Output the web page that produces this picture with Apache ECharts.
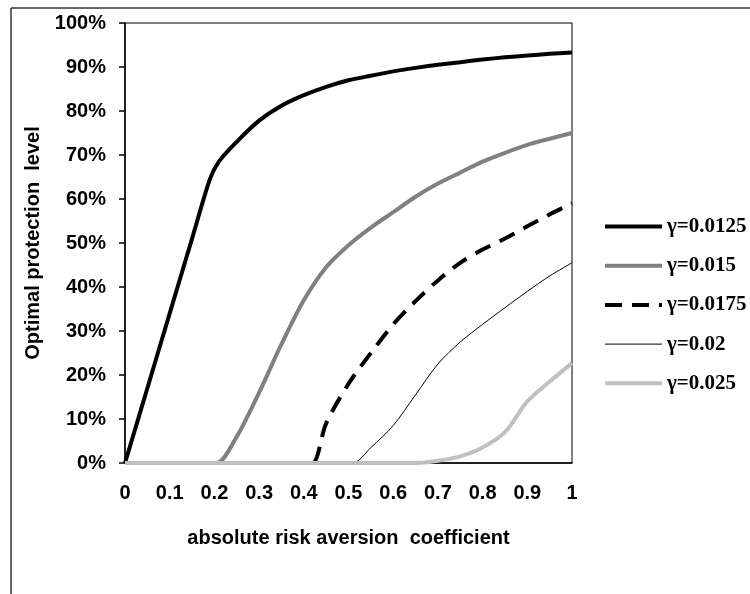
<!DOCTYPE html>
<html>
<head>
<meta charset="utf-8">
<script src="https://cdn.jsdelivr.net/npm/echarts@6/dist/echarts.min.js"></script>
<style>
html,body{margin:0;padding:0;background:#fff;}
#main{width:750px;height:594px;}
</style>
</head>
<body>
<div id="main"></div>
<script>
var names = ['γ=0.0125', 'γ=0.015', 'γ=0.0175', 'γ=0.02', 'γ=0.025'];
// [risk aversion, protection %]
var g0125 = [[0,0],[0.05,17],[0.1,34],[0.15,51],[0.19,64.5],[0.21,68.5],[0.25,73],[0.3,77.8],[0.35,81.2],[0.4,83.6],[0.45,85.5],[0.5,87],[0.55,88],[0.6,89],[0.65,89.8],[0.7,90.5],[0.75,91.1],[0.8,91.7],[0.85,92.2],[0.9,92.6],[0.95,93],[1,93.3]];
var g015 = [[0,0],[0.18,0],[0.205,0],[0.25,6],[0.3,16],[0.35,27],[0.4,37],[0.45,44.5],[0.5,49.5],[0.55,53.5],[0.6,57],[0.65,60.5],[0.7,63.5],[0.75,66],[0.8,68.5],[0.85,70.5],[0.9,72.3],[0.95,73.7],[1,75]];
var g0175 = [[0,0],[0.4,0],[0.42,0],[0.45,9],[0.5,18],[0.55,25],[0.6,31.5],[0.65,36.8],[0.7,41.5],[0.75,45.5],[0.8,48.5],[0.85,51],[0.9,53.8],[0.95,56.5],[1,59]];
var g02 = [[0,0],[0.49,0],[0.51,0],[0.55,3.5],[0.6,8.5],[0.65,15.5],[0.7,22.5],[0.75,27.5],[0.8,31.5],[0.85,35.3],[0.9,39],[0.95,42.5],[1,45.5]];
var g025 = [[0,0],[0.65,0],[0.7,0.5],[0.75,1.5],[0.8,3.5],[0.85,7],[0.9,14],[0.95,18.5],[1,22.7]];

var mychart = echarts.init(document.getElementById('main'));
var sans = 'Liberation Sans';
function mkLine(name, data, color, width, type) {
    return {
        name: name,
        type: 'line',
        data: data,
        smooth: 0.3,
        symbol: 'none',
        lineStyle: {color: color, width: width, type: type, cap: 'butt'},
        itemStyle: {color: color}
    };
}
var option = {
    animation: false,
    grid: {left: 125, right: 178, top: 23, bottom: 131, show: true, borderColor: '#000', borderWidth: 1},
    legend: {
        orient: 'vertical',
        left: 603,
        top: 216,
        padding: 0,
        itemWidth: 57,
        itemHeight: 20,
        itemGap: 18.2,
        data: names,
        itemStyle: {opacity: 0},
        lineStyle: {width: 'inherit'},
        textStyle: {fontFamily: 'Liberation Serif', fontWeight: 'bold', fontSize: 21, color: '#000', lineHeight: 20}
    },
    xAxis: {
        type: 'value',
        min: 0, max: 1, interval: 0.1,
        name: 'absolute risk aversion  coefficient',
        nameLocation: 'middle',
        nameGap: 65,
        nameTextStyle: {fontFamily: sans, fontWeight: 'bold', fontSize: 20, color: '#000'},
        axisLine: {lineStyle: {color: '#000', width: 1.5}},
        axisTick: {show: false},
        splitLine: {show: false},
        axisLabel: {margin: 20, fontFamily: sans, fontWeight: 'bold', fontSize: 20, color: '#000'}
    },
    yAxis: {
        type: 'value',
        min: 0, max: 100, interval: 10,
        name: 'Optimal protection  level',
        nameLocation: 'middle',
        nameGap: 80,
        nameTextStyle: {fontFamily: sans, fontWeight: 'bold', fontSize: 20, color: '#000'},
        axisLine: {show: true, lineStyle: {color: '#000', width: 1.5}},
        axisTick: {show: true, length: 6, lineStyle: {color: '#000', width: 1.5}},
        splitLine: {show: false},
        axisLabel: {margin: 19, formatter: '{value}%', fontFamily: sans, fontWeight: 'bold', fontSize: 20, color: '#000'}
    },
    graphic: [
        {type: 'line', shape: {x1: 11, y1: 8, x2: 750, y2: 8}, style: {stroke: '#333', lineWidth: 1.5}},
        {type: 'line', shape: {x1: 11, y1: 8, x2: 11, y2: 594}, style: {stroke: '#333', lineWidth: 1.5}}
    ],
    series: [
        mkLine(names[0], g0125, '#000', 4, 'solid'),
        mkLine(names[1], g015, '#808080', 4, 'solid'),
        mkLine(names[2], g0175, '#000', 4, [17, 10]),
        mkLine(names[3], g02, '#000', 1, 'solid'),
        mkLine(names[4], g025, '#c0c0c0', 4, 'solid')
    ]
};
mychart.setOption(option);
</script>
</body>
</html>
